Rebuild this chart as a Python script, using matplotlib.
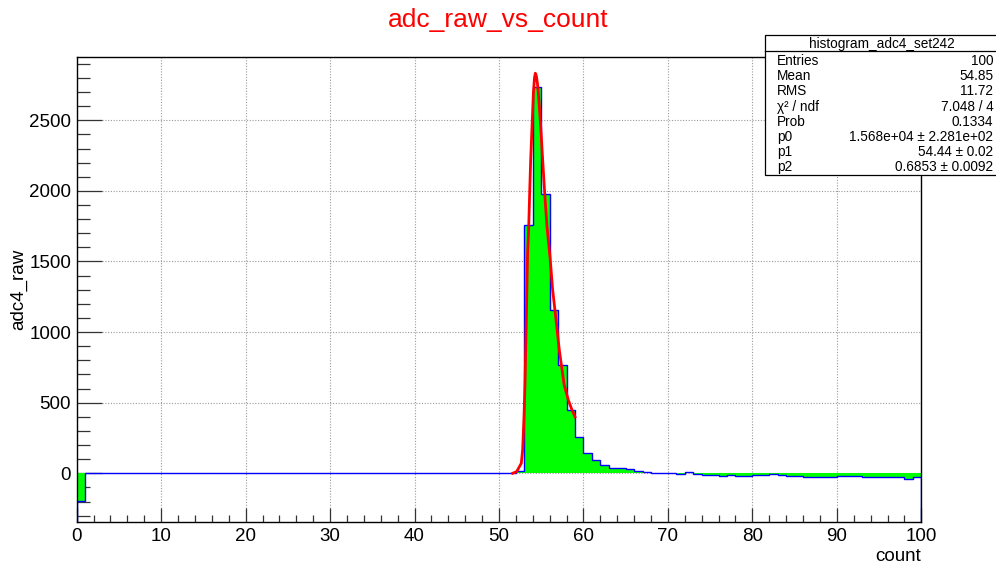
import matplotlib
matplotlib.use('Agg')
import matplotlib.pyplot as plt
import numpy as np
from matplotlib.ticker import MultipleLocator
from matplotlib.patches import Rectangle
from matplotlib.lines import Line2D

plt.rcParams['font.family'] = ['Liberation Sans', 'DejaVu Sans']

# ---------------- data ----------------
title = "adc_raw_vs_count"
x_label = "count"
y_label = "adc4_raw"
x_min, x_max, n_bins = 0, 100, 100
y_min, y_max = -347, 2948

counts = [
    -196, 0, 0, 0, 0, 0, 0, 0, 0, 0,          # 0-9
    0, 0, 0, 0, 4, 0, 4, 4, 0, 4,             # 10-19
    0, 0, 0, 4, 4, 0, 0, 4, 4, 0,             # 20-29
    0, 4, 0, 0, 0, 0, 0, 0, 0, 0,             # 30-39
    0, 4, 0, 0, 0, 4, 0, 4, 4, 4,             # 40-49
    0, 0, 15, 1761, 2736, 1981, 1159, 770, 451, 257,   # 50-59
    144, 92, 57, 40, 35, 30, 18, 7, 2, 0,     # 60-69
    0, -5, 7, -2, -9, -14, -16, -14, -19, -19,  # 70-79
    -12, -12, -7, -9, -19, -21, -26, -26, -24, -26,  # 80-89
    -19, -19, -21, -24, -28, -26, -24, -28, -38, -26,  # 90-99
]

fit_x = [51.62, 52.09, 52.64, 52.80, 52.96, 53.08, 53.24, 53.38, 53.52, 53.63,
         53.75, 53.91, 54.07, 54.20, 54.30, 54.42, 54.55, 54.66, 54.94, 55.17,
         55.41, 55.68, 56.07, 56.35, 56.71, 57.14, 57.70, 58.21, 58.60, 59.00]
fit_y = [0, 12, 71, 165, 401, 637, 1109, 1550, 1747, 1983,
         2219, 2455, 2691, 2800, 2833, 2815, 2760, 2691, 2455, 2219,
         1983, 1747, 1511, 1300, 1109, 873, 630, 518, 455, 400]

stats_title = "histogram_adc4_set242"
stats_names = ["Entries", "Mean", "RMS", "\u03c7\u00b2 / ndf", "Prob", "p0", "p1", "p2"]
stats_values = ["100", "54.85", "11.72", "7.048 / 4", "0.1334",
                "1.568e+04 \u00b1 2.281e+02", "54.44 \u00b1 0.02", "0.6853 \u00b1 0.0092"]

# ---------------- figure ----------------
W, H = 996, 566
fig = plt.figure(figsize=(W / 100, H / 100), dpi=100)
fig.patch.set_facecolor('white')

ax_l, ax_r, ax_t, ax_b = 76.7, 921.3, 57.0, 522.3
ax = fig.add_axes([ax_l / W, 1 - ax_b / H, (ax_r - ax_l) / W, (ax_b - ax_t) / H])

edges = np.linspace(x_min, x_max, n_bins + 1)
vals = np.array(counts, dtype=float)

ax.set_xlim(x_min, x_max)
ax.set_ylim(y_min, y_max)

# grid
ax.set_axisbelow(True)
ax.grid(True, which='major', color='#9a9a9a', linestyle=(0, (1, 1.5)), linewidth=0.8)

# filled histogram + outline
ax.stairs(vals, edges, fill=True, color='#00ff00', baseline=0, zorder=2)
ax.stairs(vals, edges, baseline=y_min, color='#0000ff', linewidth=1.0, zorder=3)

# fit curve
ax.plot(fit_x, fit_y, color='#ff0000', linewidth=2.0, zorder=4)

# ticks
fs = 13.5
ax.xaxis.set_major_locator(MultipleLocator(10))
ax.xaxis.set_minor_locator(MultipleLocator(2))
ax.yaxis.set_major_locator(MultipleLocator(500))
ax.yaxis.set_minor_locator(MultipleLocator(100))
ax.tick_params(axis='x', which='major', direction='in', length=10, width=0.9,
               labelsize=fs, pad=4.0, top=False, color='#333333')
ax.tick_params(axis='x', which='minor', direction='in', length=5, width=0.9,
               top=False, color='#333333')
ax.tick_params(axis='y', which='major', direction='in', length=18, width=0.9,
               labelsize=fs, pad=4.0, right=False, color='#333333')
ax.tick_params(axis='y', which='minor', direction='in', length=9, width=0.9,
               right=False, color='#333333')
for s in ax.spines.values():
    s.set_linewidth(1.0)
    s.set_color('black')
    s.set_zorder(5)

# title & axis labels
fig.text(498 / W, 1 - 27 / H, title, color='#ff0000', fontsize=19,
         ha='center', va='baseline')
fig.text(ax_r / W, 1 - 561 / H, x_label, fontsize=fs, ha='right', va='baseline')
fig.text(10.5 / W, 1 - ((ax_t + ax_b) / 2) / H, y_label, fontsize=fs,
         rotation=90, ha='left', va='center')

# stats box
bx_l, bx_r, bx_t, bx_b = 765, 998, 35, 175.3
box = Rectangle((bx_l / W, 1 - bx_b / H), (bx_r - bx_l) / W, (bx_b - bx_t) / H,
                transform=fig.transFigure, facecolor='white', edgecolor='black',
                linewidth=0.9, zorder=10)
fig.add_artist(box)
sep_y = 1 - 51 / H
fig.add_artist(Line2D([bx_l / W, bx_r / W], [sep_y, sep_y], transform=fig.transFigure,
                      color='black', linewidth=0.9, zorder=11))
fig.text((bx_l + bx_r) / 2 / W, 1 - 48 / H, stats_title, fontsize=9.8,
         ha='center', va='baseline', zorder=12)
row0, dy = 65.0, 15.2
for i, (n, v) in enumerate(zip(stats_names, stats_values)):
    yb = 1 - (row0 + i * dy) / H
    fig.text(776.7 / W, yb, n, fontsize=9.8, ha='left', va='baseline', zorder=12)
    fig.text(993.3 / W, yb, v, fontsize=9.8, ha='right', va='baseline', zorder=12)

fig.savefig('out.png', dpi=100, facecolor='white')
